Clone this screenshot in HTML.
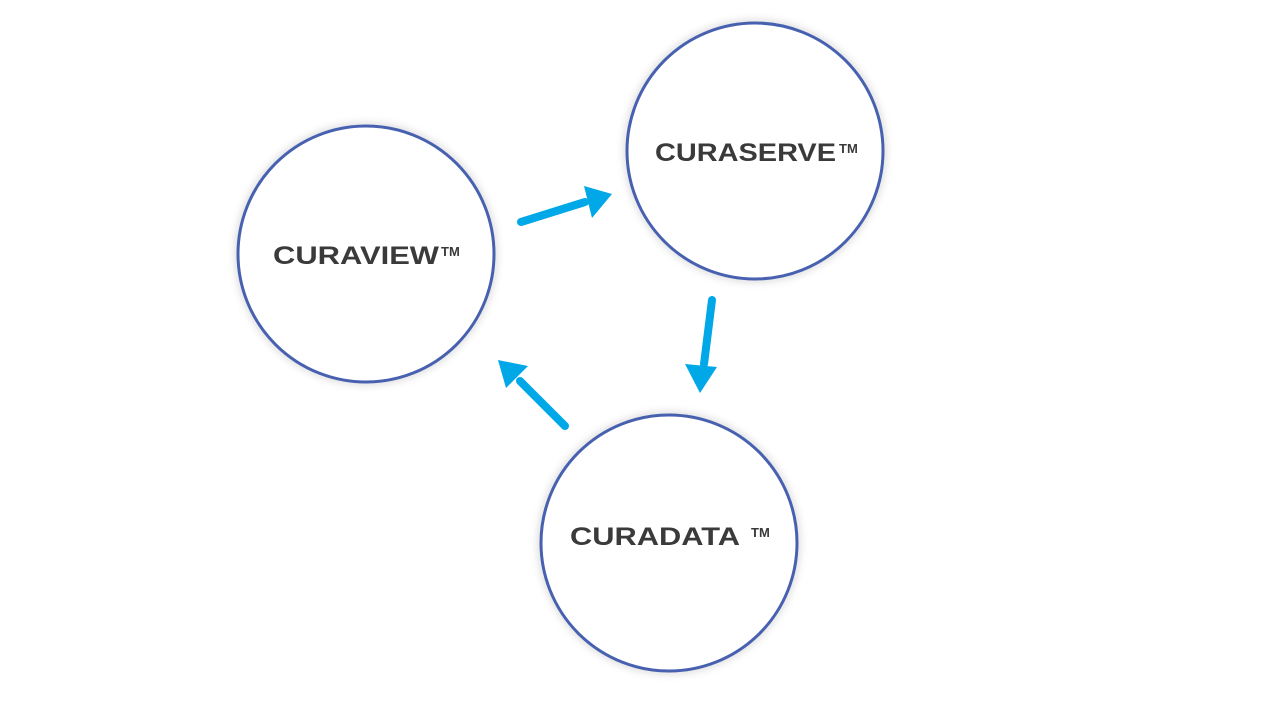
<!DOCTYPE html>
<html><head><style>
html,body{margin:0;padding:0;background:#fff;width:1261px;height:709px;overflow:hidden}
</style></head><body>
<svg width="1261" height="709" viewBox="0 0 1261 709" xmlns="http://www.w3.org/2000/svg">
<defs>
<filter id="sh" x="-20%" y="-20%" width="140%" height="140%">
<feGaussianBlur stdDeviation="4"/>
</filter>
<marker id="ah" markerWidth="4" markerHeight="4" refX="2" refY="2" orient="auto" markerUnits="strokeWidth">
<path d="M0,0 L4,2 L0,4 Z" fill="#00a8e8"/>
</marker>
</defs>
<g fill="none" stroke="#bbb" stroke-width="5" filter="url(#sh)" opacity="0.7">
<circle cx="366" cy="254" r="128"/>
<circle cx="755" cy="151" r="128"/>
<circle cx="669" cy="543" r="128"/>
</g>
<g fill="#fff" stroke="#4761b0" stroke-width="3">
<circle cx="366" cy="254" r="128"/>
<circle cx="755" cy="151" r="128"/>
<circle cx="669" cy="543" r="128"/>
</g>
<g stroke="#00a8e8" stroke-width="8" stroke-linecap="round" fill="none">
<line x1="521" y1="222" x2="585" y2="202"/>
<line x1="712" y1="300" x2="704" y2="364"/>
<line x1="565" y1="426" x2="520" y2="381"/>
</g>
<g fill="#00a8e8">
<polygon points="612,194 584,186 592,218"/>
<polygon points="700,393 685,364 717,367"/>
<polygon points="498,360 528,366 506,388"/>
</g>
<g font-family="Liberation Sans, sans-serif" font-weight="bold" fill="#3a3a3a" font-size="25">
<text x="273" y="264" textLength="166" lengthAdjust="spacingAndGlyphs">CURAVIEW</text>
<text x="441" y="256" font-size="13">TM</text>
<text x="655" y="161" textLength="181" lengthAdjust="spacingAndGlyphs">CURASERVE</text>
<text x="839" y="153" font-size="13">TM</text>
<text x="570" y="545" textLength="170" lengthAdjust="spacingAndGlyphs">CURADATA</text>
<text x="751" y="537" font-size="13">TM</text>
</g>
</svg>
</body></html>
